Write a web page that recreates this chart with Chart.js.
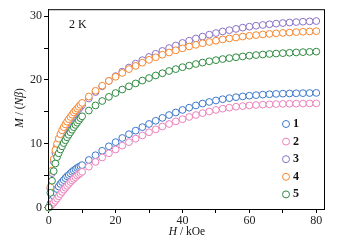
<!DOCTYPE html>
<html>
<head>
<meta charset="utf-8">
<script src="https://cdn.jsdelivr.net/npm/chart.js@4.4.0/dist/chart.umd.min.js"></script>
<style>
  html, body { margin: 0; padding: 0; background: #fff; }
  #wrap { width: 344px; height: 247px; }
</style>
</head>
<body>
<div id="wrap"><canvas id="magChart" width="344" height="247"></canvas></div>
<script>
// field values (kOe): dense below 10, then every 2 kOe
const fieldLow = [0, 0.5, 1, 1.5, 2, 2.5, 3, 3.5, 4, 4.5, 5, 5.5, 6, 6.5, 7, 7.5, 8, 8.5, 9, 9.5];
const fieldHigh = [10, 12, 14, 16, 18, 20, 22, 24, 26, 28, 30, 32, 34, 36, 38, 40, 42, 44, 46, 48,
                   50, 52, 54, 56, 58, 60, 62, 64, 66, 68, 70, 72, 74, 76, 78, 80];
const field = fieldLow.concat(fieldHigh);

const seriesLabels = ['1', '2', '3', '4', '5'];
const seriesColors = ['#3b78cc', '#ec80ba', '#8b72c6', '#f7862e', '#2e8a40'];

const m1 = [0, 0.6, 1.2, 1.8, 2.4, 2.9, 3.3, 3.7, 4.0, 4.3, 4.6, 4.9, 5.1, 5.35, 5.6, 5.8, 6.0, 6.2, 6.35, 6.5,
            6.65, 7.45, 8.2, 8.9, 9.6, 10.25, 10.9, 11.5, 12.05, 12.6, 13.1, 13.6, 14.05, 14.5, 14.9, 15.3, 15.65, 16.0, 16.3, 16.55,
            16.78, 16.98, 17.15, 17.3, 17.42, 17.53, 17.62, 17.7, 17.76, 17.81, 17.85, 17.88, 17.91, 17.93, 17.95, 17.97];
const m2 = [0, 0.2, 0.45, 0.75, 1.05, 1.4, 1.75, 2.1, 2.45, 2.8, 3.1, 3.4, 3.7, 4.0, 4.25, 4.5, 4.75, 5.0, 5.2, 5.4,
            5.6, 6.4, 7.15, 7.85, 8.5, 9.1, 9.7, 10.25, 10.8, 11.3, 11.8, 12.25, 12.7, 13.1, 13.5, 13.85, 14.2, 14.5, 14.8, 15.05,
            15.3, 15.5, 15.65, 15.8, 15.9, 16.0, 16.07, 16.13, 16.18, 16.22, 16.25, 16.27, 16.29, 16.3, 16.32, 16.33];
const m3 = [0, 3.0, 5.4, 7.2, 8.6, 9.6, 10.45, 11.15, 11.75, 12.25, 12.7, 13.1, 13.5, 13.85, 14.2, 14.55, 14.85, 15.15, 15.45, 15.75,
            16.05, 17.1, 18.1, 19.0, 19.85, 20.6, 21.3, 21.95, 22.55, 23.1, 23.6, 24.1, 24.55, 25.0, 25.4, 25.8, 26.15, 26.5, 26.8, 27.1,
            27.35, 27.6, 27.8, 28.0, 28.2, 28.35, 28.5, 28.62, 28.73, 28.83, 28.92, 29.0, 29.07, 29.13, 29.18, 29.23];
const m4 = [0, 3.2, 5.8, 7.6, 9.0, 10.0, 10.8, 11.5, 12.1, 12.6, 13.05, 13.45, 13.85, 14.2, 14.55, 14.9, 15.2, 15.5, 15.8, 16.1,
            16.4, 17.4, 18.3, 19.1, 19.85, 20.5, 21.1, 21.7, 22.2, 22.7, 23.15, 23.55, 23.95, 24.3, 24.65, 24.95, 25.25, 25.5, 25.75, 25.95,
            26.15, 26.35, 26.5, 26.65, 26.8, 26.92, 27.03, 27.13, 27.22, 27.3, 27.37, 27.43, 27.5, 27.55, 27.6, 27.65];
const m5 = [0, 2.3, 4.2, 5.7, 6.9, 7.9, 8.5, 9.1, 9.6, 10.1, 10.55, 11.0, 11.4, 11.8, 12.2, 12.6, 12.95, 13.3, 13.65, 14.0,
            14.3, 15.2, 16.0, 16.7, 17.35, 17.95, 18.5, 19.0, 19.45, 19.9, 20.3, 20.7, 21.05, 21.4, 21.7, 22.0, 22.25, 22.5, 22.72, 22.92,
            23.1, 23.27, 23.42, 23.56, 23.68, 23.8, 23.9, 23.99, 24.07, 24.14, 24.2, 24.26, 24.31, 24.36, 24.4, 24.44];
const allSeries = [m1, m2, m3, m4, m5];

const xTickLabels = [0, 20, 40, 60, 80];
const yTickLabels = [0, 10, 20, 30];

const serif = '"Liberation Serif", "DejaVu Serif", serif';

const datasets = allSeries.map((vals, i) => ({
    label: seriesLabels[i],
    data: vals.map((v, j) => ({ x: field[j], y: v })),
    showLine: false,
    pointStyle: 'circle',
    pointRadius: 3.4,
    pointHoverRadius: 3.4,
    pointBorderWidth: 1,
    pointBackgroundColor: '#ffffff',
    pointBorderColor: seriesColors[i],
    borderColor: seriesColors[i],
    order: allSeries.length - 1 - i, // later series drawn on top
    clip: false
}));

// frame, axis titles, "2 K" and the legend
const decorations = {
    id: 'decorations',
    afterDraw(chart) {
        const ctx = chart.ctx;
        const a = chart.chartArea;
        ctx.save();
        ctx.strokeStyle = '#000';
        ctx.lineWidth = 1;
        ctx.strokeRect(a.left + 0.5, a.top + 0.5, a.right - a.left, a.bottom - a.top);

        ctx.fillStyle = '#111';
        ctx.textBaseline = 'middle';

        // "2 K"
        ctx.font = '12px ' + serif;
        ctx.textAlign = 'left';
        ctx.fillText('2 K', 69, 25);

        // mixed italic/regular pieces
        const drawPieces = (pieces, cx, cy) => {
            let total = 0;
            pieces.forEach(p => { ctx.font = p[1] + ' 11.5px ' + serif; total += ctx.measureText(p[0]).width; });
            let x = cx - total / 2;
            pieces.forEach(p => {
                ctx.font = p[1] + ' 11.5px ' + serif;
                ctx.fillText(p[0], x, cy);
                x += ctx.measureText(p[0]).width;
            });
        };
        ctx.textAlign = 'left';
        drawPieces([['H', 'italic'], [' / kOe', 'normal']], 187, 232);

        ctx.save();
        ctx.translate(20, 108);
        ctx.rotate(-Math.PI / 2);
        drawPieces([['M', 'italic'], [' / (', 'normal'], ['Nβ', 'italic'], [')', 'normal']], 0, 0);
        ctx.restore();

        // legend
        seriesLabels.forEach((lab, i) => {
            const y = 124 + i * 17.6;
            ctx.beginPath();
            ctx.arc(286, y, 3.5, 0, Math.PI * 2);
            ctx.strokeStyle = seriesColors[i];
            ctx.stroke();
            ctx.font = 'bold 12px ' + serif;
            ctx.fillStyle = '#111';
            ctx.fillText(lab, 293, y);
        });
        ctx.restore();
    }
};

const ctx = document.getElementById('magChart').getContext('2d');
const chart = new Chart(ctx, {
    type: 'scatter',
    data: { datasets: datasets },
    options: {
        responsive: false,
        animation: false,
        layout: { padding: { top: 7, right: 20, left: 0, bottom: 0 } },
        plugins: { legend: { display: false }, tooltip: { enabled: false } },
        scales: {
            x: {
                type: 'linear',
                min: -0.2,
                max: 82.3,
                afterFit(scale) { scale.height = 38; },
                border: { display: true, color: '#000', width: 1 },
                grid: { display: true, drawOnChartArea: false, drawTicks: true, tickLength: 4, color: '#000' },
                ticks: {
                    stepSize: 10,
                    includeBounds: false,
                    autoSkip: false,
                    maxRotation: 0,
                    padding: 1,
                    color: '#222',
                    font: { family: serif, size: 12 },
                    callback: v => xTickLabels.includes(v) ? String(v) : ''
                }
            },
            y: {
                type: 'linear',
                min: -0.23,
                max: 31.09,
                afterFit(scale) { scale.width = 48; },
                border: { display: true, color: '#000', width: 1 },
                grid: { display: true, drawOnChartArea: false, drawTicks: true, tickLength: 4, color: '#000' },
                ticks: {
                    stepSize: 5,
                    includeBounds: false,
                    autoSkip: false,
                    padding: 2,
                    color: '#222',
                    font: { family: serif, size: 12 },
                    callback: v => yTickLabels.includes(v) ? String(v) : ''
                }
            }
        }
    },
    plugins: [decorations]
});
</script>
</body>
</html>
